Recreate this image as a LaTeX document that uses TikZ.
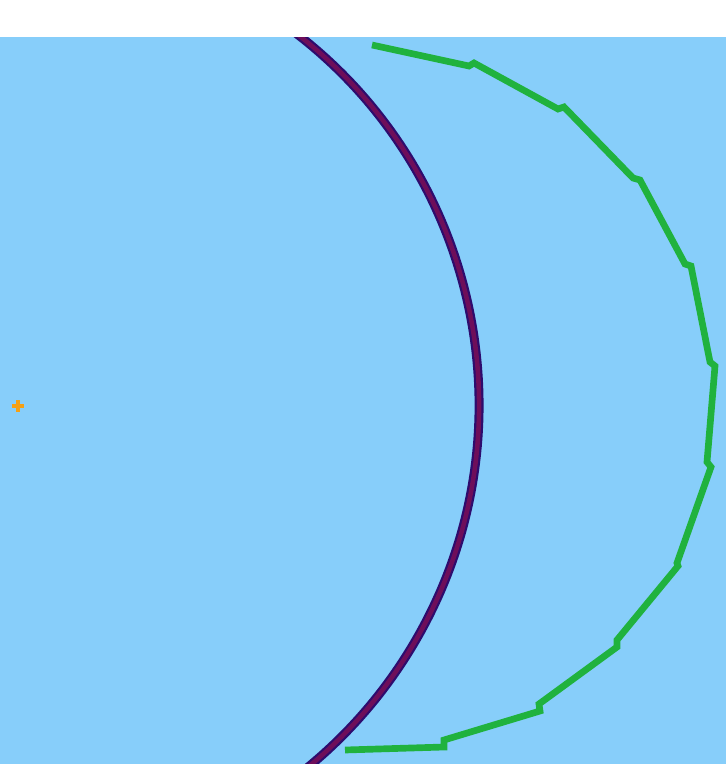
\documentclass[tikz,border=0pt]{standalone}
\usepackage{xcolor}
\definecolor{skyback}{RGB}{135,206,250}
\definecolor{pathgreen}{RGB}{32,178,62}
\definecolor{ringnavy}{RGB}{45,12,110}
\definecolor{ringplum}{RGB}{110,14,90}
\definecolor{markorange}{RGB}{245,160,20}
\tikzset{
	trace/.style={draw=pathgreen, line width=3.8pt, line join=miter},
	ringout/.style={draw=ringnavy, line width=5.1pt},
	ringin/.style={draw=ringplum, line width=2.6pt},
	cross/.style={draw=markorange, line width=1.9pt},
}
\begin{document}
\begin{tikzpicture}[x=0.02cm, y=-0.02cm]
	% Frame and background:
	\useasboundingbox (0, 0) rectangle (726, 764);
	\fill[white] (0, 0) rectangle (726, 37);
	\fill[skyback] (0, 37) rectangle (726, 764);
	% Centre mark:
	\coordinate (centre) at (10, 405);
	\coordinate (mark) at (18, 406);
	\draw[cross] (mark) ++(-6, 0) -- ++(12, 0);
	\draw[cross] (mark) ++(0, -6) -- ++(0, 12);
	% Ring, clipped to the field:
	\begin{scope}
		\clip (0, 37) rectangle (726, 764);
		\draw[ringout] (centre) ++(-60:469) arc[start angle=-60, end angle=60, radius=469];
		\draw[ringin] (centre) ++(-60:469) arc[start angle=-60, end angle=60, radius=469];
	\end{scope}
	% Green track:
	\draw[trace] (372, 45) -- (469, 66) -- (474, 63) -- (558, 109) -- (564, 107)
		-- (633, 178) -- (640, 180) -- (685, 264) -- (691, 266) -- (710, 362)
		-- (715, 366) -- (707, 462) -- (711, 467) -- (677, 563) -- (678, 566)
		-- (617, 640) -- (617, 647) -- (539, 704) -- (540, 711) -- (444, 740)
		-- (444, 747) -- (345, 750);
\end{tikzpicture}
\end{document}
